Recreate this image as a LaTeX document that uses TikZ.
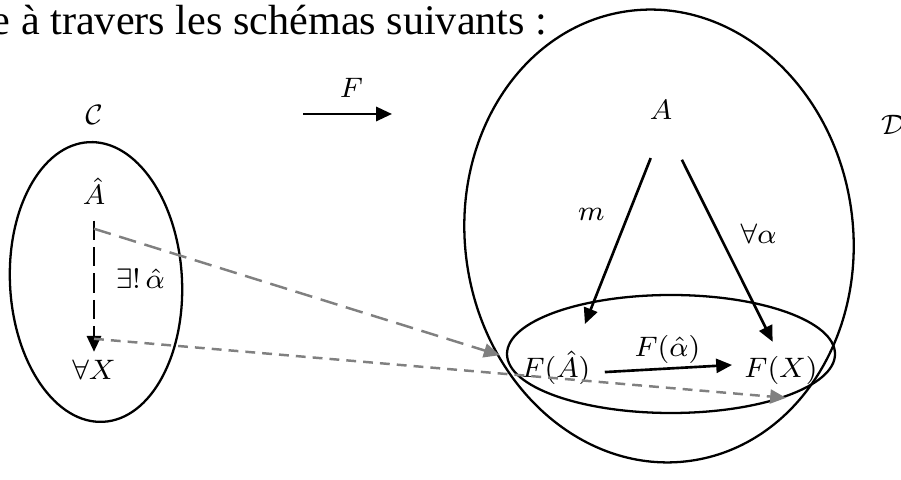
\documentclass[tikz,border=0pt]{standalone}
\usepackage{fontspec}
\setmainfont{Liberation Serif}
\usetikzlibrary{arrows.meta}

\begin{document}
\begin{tikzpicture}[
    x=0.01cm, y=-0.01cm,
    obj/.style={font=\fontsize{8}{10}\selectfont},
    map/.style={-{Triangle[length=4.5pt,width=4pt]}, line width=0.75pt},
    proj/.style={-{Triangle[length=4.5pt,width=4pt]}, line width=0.7pt, gray},
    univ/.style={line width=0.65pt},
  ]
  \useasboundingbox (0,0) rectangle (901,480);
  % Sentence
  \node[anchor=base east, inner sep=0pt, font=\fontsize{12}{14}\selectfont] (intro) at (548,35) {e à travers les schémas suivants :};

  % Categories
  \draw[univ, rotate around={3:(96,282)}] (96,282) ellipse [x radius=86, y radius=140];
  \draw[univ, rotate around={8:(659,236)}] (659,236) ellipse [x radius=194, y radius=227];
  \draw[univ] (671,354) ellipse [x radius=164, y radius=59];
  \node[obj] (catC) at (94,115) {$\mathcal{C}$};
  \node[obj] (catD) at (893,125) {$\mathcal{D}$};

  % Objects
  \node[obj] (Ahat) at (94,191) {$\hat{A}$};
  \node[obj] (X) at (94,370) {$\forall X$};
  \node[obj] (A) at (661,110) {$A$};
  \node[obj, anchor=base] (FA) at (556,378) {$F(\hat{A})$};
  \node[obj, anchor=base] (FX) at (781,378) {$F(X)$};

  % Functor
  \coordinate (fsrc) at (303,114);
  \coordinate (ftgt) at (392,114);
  \draw[map] (fsrc) -- node[obj, above=1pt, xshift=0.04cm] (flbl) {$F$} (ftgt);

  % Morphisms
  \draw[map, dash pattern=on 5.5pt off 2pt, shorten <=0.04cm, shorten >=-0.04cm] (Ahat) -- node[obj, right=2.5pt, pos=0.47] (exlbl) {$\exists!\,\hat{\alpha}$} (X);
  \draw[map, shorten <=0.28cm, shorten >=0.16cm] (A.south) -- node[obj, left=3pt, pos=0.4] (mlbl) {$m$} ([xshift=0.23cm]FA.north);
  \draw[map, shorten <=0.31cm, shorten >=0.03cm] ([xshift=0.07cm]A.south) -- node[obj, right=2.5pt, pos=0.48] (albl) {$\forall\alpha$} ([xshift=-0.07cm]FX.north);
  \draw[map, shorten <=0.02cm] ([yshift=-0.04cm]FA.east) -- node[obj, anchor=base, yshift=0.12cm] (falbl) {$F(\hat{\alpha})$} ([yshift=0.06cm]FX.west);

  % Images under F
  \coordinate (hi) at ([yshift=-0.12cm]Ahat.south);
  \coordinate (lo) at ([yshift=0.09cm]X.north);
  \draw[proj, dash pattern=on 5pt off 2.5pt, shorten >=0.1cm] (hi) -- ([yshift=0.1cm]FA.west);
  \draw[proj, dash pattern=on 2.8pt off 2pt, shorten >=-0.05cm] (lo) -- (FX.south);
\end{tikzpicture}
\end{document}
